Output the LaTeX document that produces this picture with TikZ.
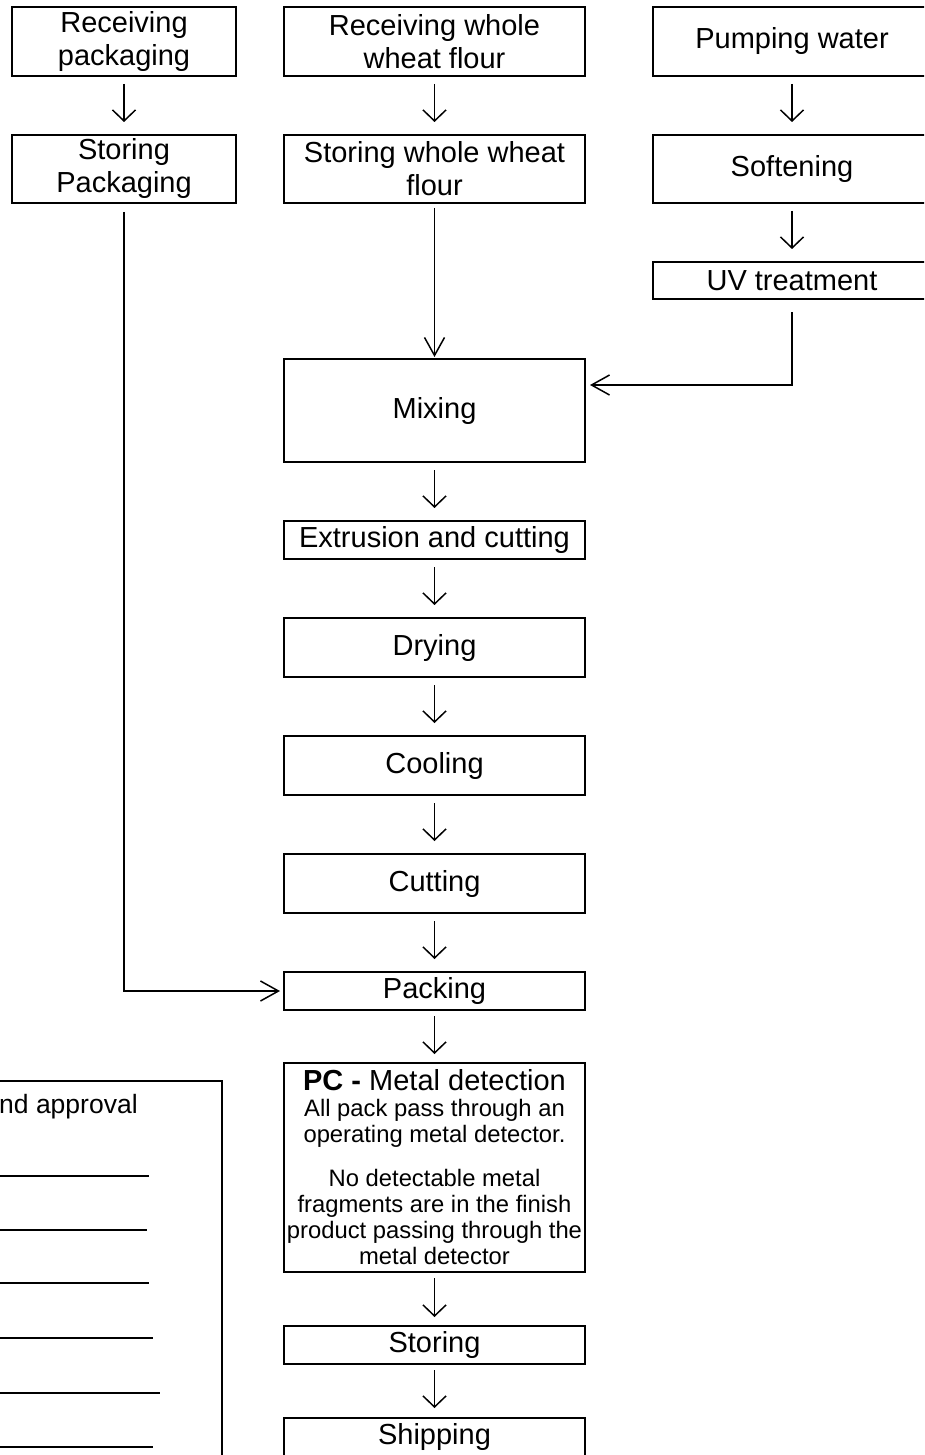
\documentclass[tikz,border=0pt]{standalone}
\usepackage{fontspec}
\setmainfont{Liberation Sans}
\usetikzlibrary{positioning,arrows.meta}

\begin{document}
\begin{tikzpicture}[
  x=1pt,y=-1pt,
  every edge/.style={draw,line width=1.5pt,-{Straight Barb[length=11pt,width=23pt]},shorten <=8pt,shorten >=13pt},
  feed/.style={line width=1.5pt,-{Straight Barb[length=18pt,width=20pt]}},
  box/.style={draw,line width=2pt,inner sep=0pt,outer sep=0pt,align=center,font=\fontsize{29}{33}\selectfont},
  colL/.style={box,minimum width=224pt},
  colM/.style={box,minimum width=301pt},
  colR/.style={box,minimum width=278pt},
  ]
\useasboundingbox (0,0) rectangle (924,1455);
\clip (0,0) rectangle (924,1455);

% ---- top rows ----
\node[colL,minimum height=69pt] (rp) at (124,41.5) {Receiving\\packaging};
\node[colM,minimum height=69pt,right=48pt of rp] (rw) {Receiving whole\\wheat flour};
\node[colR,minimum height=69pt,right=68pt of rw] (pw) {Pumping water};
\node[colL,minimum height=68pt,below=59pt of rp] (sp) {Storing\\Packaging};
\node[colM,minimum height=68pt,below=59pt of rw] (sw) {Storing whole wheat\\flour};
\node[colR,minimum height=68pt,below=59pt of pw] (so) {Softening};
\node[colR,minimum height=37pt,below=59pt of so] (uv) {UV treatment};

% ---- main chain ----
\node[colM,minimum height=103pt,below=156pt of sw] (mx) {Mixing};
\node[colM,minimum height=38pt,below=59pt of mx] (ex) {Extrusion and cutting};
\node[colM,minimum height=59pt,below=59pt of ex] (dr) {Drying};
\node[colM,minimum height=59pt,below=59pt of dr] (co) {Cooling};
\node[colM,minimum height=59pt,below=59pt of co] (cu) {Cutting};
\node[colM,minimum height=38pt,below=59pt of cu] (pk) {Packing};
\node[colM,minimum height=209pt,below=53pt of pk,font=\fontsize{23.8}{26}\selectfont] (md)
  {{\fontsize{29}{33}\selectfont\textbf{PC -} Metal detection}\\All pack pass through an\\operating metal detector.\\[18pt]No detectable metal\\fragments are in the finish\\product passing through the\\metal detector};
\node[colM,minimum height=38pt,below=54pt of md] (st) {Storing};
\node[colM,minimum height=38pt,below=54pt of st] (sh) {Shipping};

% ---- edges ----
\draw (rp) edge (sp);
\draw (rw) edge (sw);
\draw (pw) edge (so);
\draw (so) edge (uv);
\draw (mx) edge (ex);
\draw (ex) edge (dr);
\draw (dr) edge (co);
\draw (co) edge (cu);
\draw (cu) edge (pk);
\draw (pk) edge[shorten <=6pt,shorten >=9pt] (md);
\draw (md) edge[shorten <=6pt,shorten >=9pt] (st);
\draw (st) edge[shorten <=6pt,shorten >=10pt] (sh);

\draw[feed,shorten >=2pt] ([yshift=-5pt]sw.south) -- (mx);
\draw[feed,shorten >=5pt] ([yshift=-13pt]uv.south) |- ([yshift=25.5pt]mx.east);
\draw[feed,shorten >=4pt] ([yshift=-9pt]sp.south) |- (pk);

% ---- sign-off box (cut at the edge) ----
\draw[line width=1.6pt] (-20,1081) rectangle (222,1480);
\node[anchor=base west,inner sep=0pt,font=\fontsize{26.5}{30}\selectfont] (ap) at (-1,1113) {nd approval};
\foreach \y/\e in {1176/149,1230/147,1283/149,1338/153,1393/160,1447/153}
  \draw[line width=1.3pt] (-5,\y) -- (\e,\y);

\end{tikzpicture}
\end{document}
